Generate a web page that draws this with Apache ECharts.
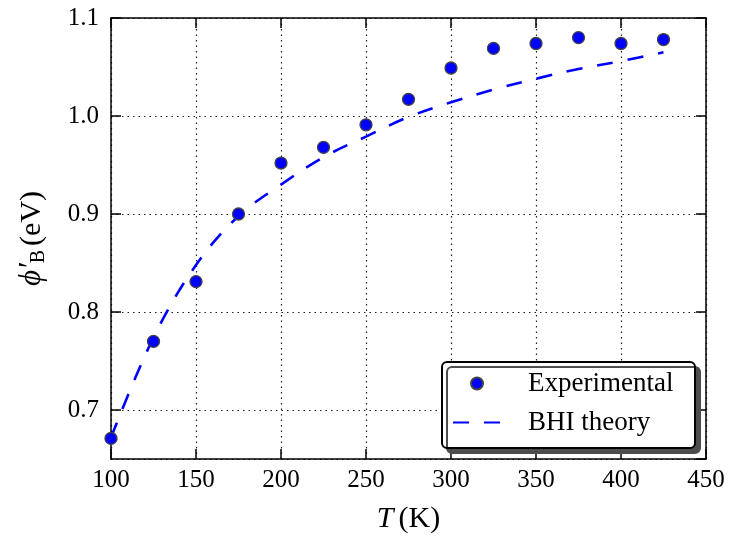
<!DOCTYPE html>
<html>
<head>
<meta charset="utf-8">
<script src="https://cdn.jsdelivr.net/npm/echarts@6/dist/echarts.min.js"></script>
<style>html,body{margin:0;padding:0;background:#fff}#c{width:730px;height:542px}</style>
</head>
<body>
<div id="c"></div>
<script>
const temperatures = [100, 125, 150, 175, 200, 225, 250, 275, 300, 325, 350, 375, 400, 425];
const experimental = [0.671, 0.770, 0.831, 0.900, 0.952, 0.968, 0.991, 1.017, 1.049, 1.069, 1.074, 1.080, 1.074, 1.078];
const theory = [0.672, 0.774, 0.848, 0.898, 0.930, 0.958, 0.979, 0.999, 1.014, 1.027, 1.038, 1.048, 1.056, 1.065];
const xTicks = [100, 150, 200, 250, 300, 350, 400, 450];
const yTicks = [0.7, 0.8, 0.9, 1.0, 1.1];

const serif = 'Liberation Serif';
const chart = echarts.init(document.getElementById('c'), null, {renderer: 'canvas'});

const axisLineStyle = {color: '#000', width: 1.5};
const tickStyle = {color: '#000', width: 1.5};
const splitStyle = {color: '#222', width: 1.2, type: [1.5, 4]};

chart.setOption({
  animation: false,
  backgroundColor: '#fff',
  grid: {left: 111, right: 24, top: 18, bottom: 83, containLabel: false},
  xAxis: [{
    type: 'value', min: 100, max: 450, interval: 50, position: 'bottom',
    name: '{it|T}{sp| }{rm|(K)}', nameLocation: 'middle', nameGap: 45,
    nameTextStyle: {rich: {
      it: {fontFamily: serif, fontStyle: 'italic', fontSize: 30, color: '#000'},
      sp: {fontFamily: serif, fontSize: 20},
      rm: {fontFamily: serif, fontSize: 30, color: '#000'}
    }},
    axisLine: {show: true, lineStyle: axisLineStyle},
    axisTick: {show: true, inside: true, length: 10, lineStyle: tickStyle},
    axisLabel: {fontFamily: serif, fontSize: 25, color: '#000', margin: 9,
      formatter: v => xTicks.includes(v) ? String(v) : ''},
    splitLine: {show: true, lineStyle: splitStyle}
  }, {
    type: 'value', min: 100, max: 450, interval: 50, position: 'top',
    axisLine: {show: true, lineStyle: axisLineStyle},
    axisTick: {show: true, inside: true, length: 10, lineStyle: tickStyle},
    axisLabel: {show: false}, splitLine: {show: false}
  }],
  yAxis: [{
    type: 'value', min: 0.65, max: 1.1, splitNumber: 5, position: 'left',
    name: '{phi|ϕ′}{sub|B}{sp| }{rm|(eV)}', nameLocation: 'middle', nameGap: 62, nameRotate: 90,
    nameTextStyle: {rich: {
      phi: {fontFamily: serif, fontStyle: 'italic', fontSize: 31, color: '#000'},
      sub: {fontFamily: serif, fontSize: 20, color: '#000', padding: [14, 0, 0, 0]},
      sp: {fontFamily: serif, fontSize: 16},
      rm: {fontFamily: serif, fontSize: 30, color: '#000'}
    }},
    axisLine: {show: true, lineStyle: axisLineStyle},
    axisTick: {show: true, inside: true, length: 10, lineStyle: tickStyle},
    axisLabel: {fontFamily: serif, fontSize: 25, color: '#000', margin: 12, showMinLabel: false,
      formatter: v => { const t = yTicks.find(k => Math.abs(k - v) < 1e-6); return t === undefined ? '' : t.toFixed(1); }},
    splitLine: {show: true, lineStyle: splitStyle}
  }, {
    type: 'value', min: 0.65, max: 1.1, splitNumber: 5, position: 'right',
    axisLine: {show: true, lineStyle: axisLineStyle},
    axisTick: {show: true, inside: true, length: 10, lineStyle: tickStyle},
    axisLabel: {show: false}, splitLine: {show: false}
  }],
  legend: {
    orient: 'vertical', left: 442, top: 362,
    padding: [8, 12, 12, 10],
    itemWidth: 48, itemHeight: 12, itemGap: 12,
    backgroundColor: '#fff', borderColor: '#000', borderWidth: 2, borderRadius: 5,
    shadowColor: '#4d4d4d', shadowBlur: 0, shadowOffsetX: 5, shadowOffsetY: 5,
    textStyle: {fontFamily: serif, fontSize: 27, color: '#000', lineHeight: 26, padding: [0, 0, 0, 22], width: 155},
    data: [
      {name: 'Experimental', icon: 'circle'},
      {name: 'BHI theory', itemStyle: {opacity: 0}}
    ]
  },
  series: [{
    name: 'Experimental', type: 'scatter', xAxisIndex: 0, yAxisIndex: 0,
    symbol: 'circle', symbolSize: 12,
    itemStyle: {color: '#0000ff', borderColor: '#444', borderWidth: 1.3, opacity: 1},
    data: temperatures.map((t, i) => [t, experimental[i]]),
    z: 3
  }, {
    name: 'BHI theory', type: 'line', xAxisIndex: 0, yAxisIndex: 0,
    symbol: 'none', smooth: 0.35,
    lineStyle: {color: '#0000ff', width: 2.6, type: [16, 15]},
    itemStyle: {color: '#0000ff'},
    data: temperatures.map((t, i) => [t, theory[i]]),
    z: 2
  }]
});
</script>
</body>
</html>
